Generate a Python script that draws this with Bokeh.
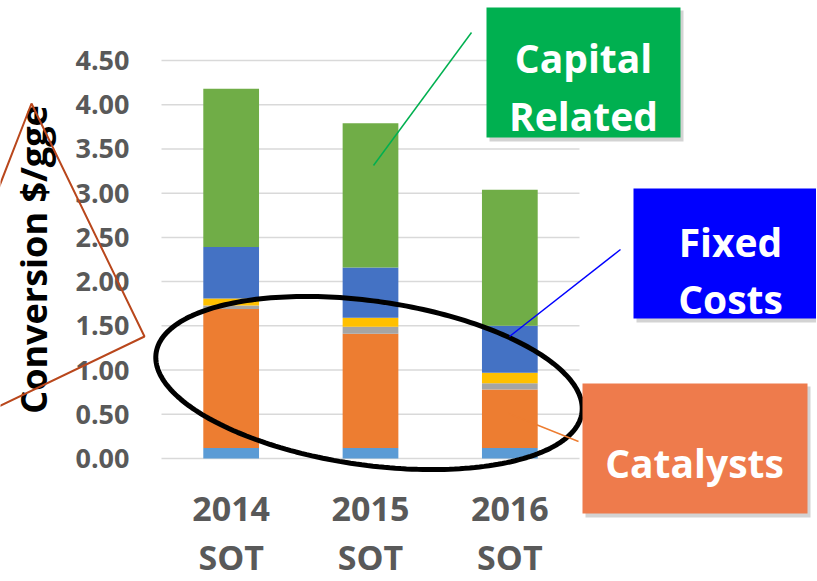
import numpy as np
from bokeh.plotting import figure
from bokeh.models import (Range1d, FixedTicker, NumeralTickFormatter,
                          BoxAnnotation, Label, Arrow, PolyAnnotation, ColumnDataSource)
from bokeh.embed import file_html
from bokeh.resources import INLINE

# ---------------- data ----------------
categories = ["2014\nSOT", "2015\nSOT", "2016\nSOT"]
base_costs = [0.12, 0.12, 0.12]
catalysts = [1.57, 1.29, 0.66]
gray_costs = [0.04, 0.08, 0.07]
yellow_costs = [0.08, 0.10, 0.12]
fixed_costs = [0.58, 0.57, 0.53]
capital_related = [1.79, 1.63, 1.54]
y_ticks = [0.0, 0.5, 1.0, 1.5, 2.0, 2.5, 3.0, 3.5, 4.0, 4.5]
y_label = "Conversion $/gge"

series_names = ["base", "catalysts", "gray", "yellow", "fixed", "capital"]
series_colors = ["#5B9BD5", "#ED7D31", "#A5A5A5", "#FFC000", "#4472C4", "#70AD47"]

n_cat = len(categories)
x_pos = [i + 0.5 for i in range(n_cat)]
y_max = y_ticks[-1]

source = ColumnDataSource(dict(x=x_pos, base=base_costs, catalysts=catalysts,
                               gray=gray_costs, yellow=yellow_costs, fixed=fixed_costs,
                               capital=capital_related))

FONT = "Open Sans"
W, H = 816, 580

# pixel layout of the chart area (picture coordinates)
FRAME_L, FRAME_R, FRAME_T, FRAME_B = 161.0, 579.0, 60.0, 458.0
XPX = (FRAME_R - FRAME_L) / n_cat
YPX = (FRAME_B - FRAME_T) / y_max


def sx(px):
    return (px - FRAME_L) / XPX


def sy(py):
    return (FRAME_B - py) / YPX


p = figure(x_range=Range1d(sx(0), sx(W)), y_range=Range1d(sy(H), sy(0)),
           width=W, height=H, output_backend="svg", toolbar_location=None,
           min_border_left=0, min_border_right=0, min_border_top=0, min_border_bottom=0)
p.title.visible = False
p.outline_line_color = None
p.background_fill_color = "white"
p.border_fill_color = "white"
p.xgrid.visible = False
p.ygrid.visible = False

# horizontal gridlines across the category span
p.segment(x0=[0] * len(y_ticks), x1=[n_cat] * len(y_ticks), y0=y_ticks, y1=y_ticks,
          line_color="#d9d9d9", line_width=1.5)

p.vbar_stack(series_names, x="x", width=0.4, color=series_colors, source=source,
             line_color=None)

# axes drawn at fixed data locations
for ax in (p.xaxis[0], p.yaxis[0]):
    ax.axis_line_color = None
    ax.major_tick_line_color = None
    ax.minor_tick_line_color = None
    ax.major_label_text_font = FONT
    ax.major_label_text_font_style = "bold"
    ax.major_label_text_color = "#595959"

p.yaxis.fixed_location = 0
p.yaxis.bounds = (0, y_max)
p.yaxis.ticker = FixedTicker(ticks=y_ticks)
p.yaxis.formatter = NumeralTickFormatter(format="0.00")
p.yaxis.major_label_text_font_size = "27px"
p.yaxis.major_label_standoff = 26
p.yaxis.axis_label = y_label
p.yaxis.axis_label_text_font = FONT
p.yaxis.axis_label_text_font_style = "bold"
p.yaxis.axis_label_text_font_size = "36px"
p.yaxis.axis_label_text_color = "black"
p.yaxis.axis_label_standoff = 14

p.xaxis.fixed_location = 0
p.xaxis.bounds = (0, n_cat)
p.xaxis.ticker = FixedTicker(ticks=x_pos)
p.xaxis.major_label_overrides = {x: c for x, c in zip(x_pos, categories)}
p.xaxis.major_label_text_font_size = "34px"
p.xaxis.major_label_text_line_height = 1.08
p.xaxis.major_label_standoff = 20

# ---------------- annotations ----------------


def box(l, r, t, b, color):
    p.add_layout(BoxAnnotation(left=sx(l + 3), right=sx(r + 3), top=sy(t + 3), bottom=sy(b + 4),
                               fill_color="#808080", fill_alpha=0.35, line_color=None))
    p.add_layout(BoxAnnotation(left=sx(l), right=sx(r), top=sy(t), bottom=sy(b),
                               fill_color=color, fill_alpha=1.0, line_color=None))


def text(x, y, s, size="39px"):
    p.add_layout(Label(x=sx(x), y=sy(y), text=s, text_align="center",
                       text_baseline="alphabetic", text_color="white",
                       text_font=FONT, text_font_style="bold", text_font_size=size))


def line(x0, y0, x1, y1, color, w=1.5):
    p.add_layout(Arrow(x_start=sx(x0), y_start=sy(y0), x_end=sx(x1), y_end=sy(y1),
                       end=None, line_color=color, line_width=w))


# black ellipse around the variable costs
t = np.linspace(0, 2 * np.pi, 240)
cx, cy, a, b, th = 368.5, 382.5, 215.0, 82.0, np.deg2rad(8.0)
ex = cx + a * np.cos(t) * np.cos(th) - b * np.sin(t) * np.sin(th)
ey = cy + a * np.cos(t) * np.sin(th) + b * np.sin(t) * np.cos(th)
p.add_layout(PolyAnnotation(xs=[sx(v) for v in ex], ys=[sy(v) for v in ey],
                            fill_color=None, fill_alpha=0, line_color="black",
                            line_alpha=1.0, line_width=5))

# brown triangle at the left
tri_x = [-2, 31, 144, -2]
tri_y = [188, 103, 336, 406]
p.add_layout(PolyAnnotation(xs=[sx(v) for v in tri_x], ys=[sy(v) for v in tri_y],
                            fill_color=None, fill_alpha=0, line_color="#B9471C",
                            line_alpha=1.0, line_width=2))

# callout boxes
box(486, 680, 7, 137, "#00B050")
box(633, 840, 188, 318, "#0000FF")
box(582, 807, 383, 513, "#EE7B4C")

text(583, 57, "Capital")
text(583, 115, "Related")
text(730, 241, "Fixed")
text(730, 298, "Costs")
text(694, 462, "Catalysts")

line(471, 32, 373, 165, "#00B050")
line(620, 249, 509, 336, "#0000FF")
line(508, 413, 578, 441, "#ED7D31")

open("out.html", "w").write(file_html(p, INLINE))
